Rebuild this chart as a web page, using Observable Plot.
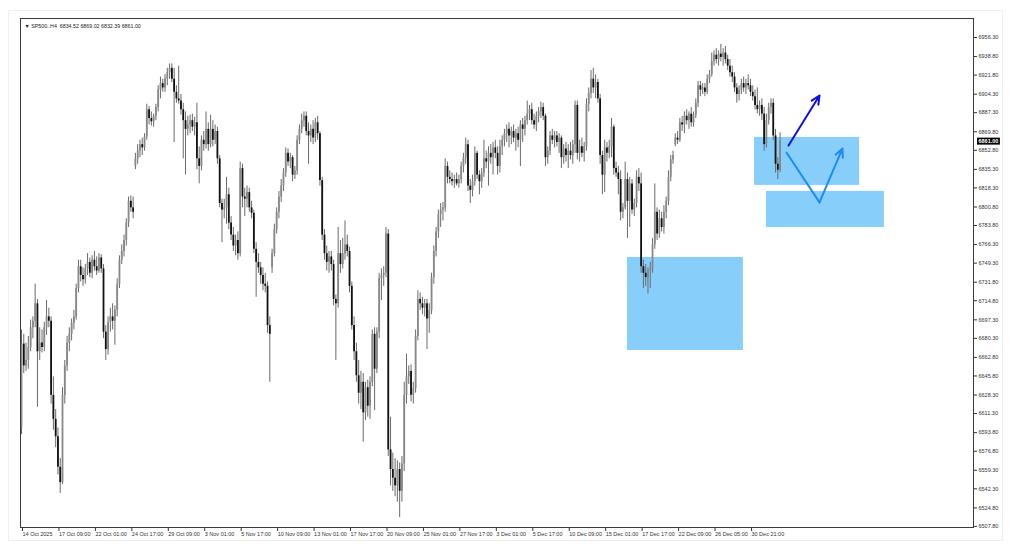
<!DOCTYPE html>
<html><head><meta charset="utf-8">
<script src="https://cdn.jsdelivr.net/npm/d3@7"></script>
<script src="https://cdn.jsdelivr.net/npm/@observablehq/plot@0.6"></script>
<style>
html,body{margin:0;padding:0;background:#fff;}
#chart{position:relative;width:1024px;height:559px;}
#chart svg{position:absolute;left:0;top:0;}
#edge{position:absolute;left:8px;top:10px;width:995px;height:531px;border:1px solid #efefef;box-sizing:border-box;}
</style></head><body><div id="chart"><div id="edge"></div></div>
<script>
const symbol = "SP500..H4";
const opens = [
6598,6675,6655,6660,6672,6690,6696,6712,6668,6676,6672,6690,6700,6696,6628,6606,
6590,6562,6548,6628,6655,6676,6684,6694,6700,6726,6746,6738,6734,6744,6750,6740,
6752,6746,6742,6754,6744,6686,6670,6695,6700,6696,6706,6730,6752,6760,6770,6786,
6806,6800,6838,6845,6852,6858,6855,6865,6890,6882,6879,6884,6892,6908,6914,6910,
6918,6924,6928,6918,6906,6900,6898,6890,6880,6872,6876,6880,6874,6878,6845,6838,
6862,6858,6872,6858,6872,6862,6870,6845,6804,6798,6800,6812,6786,6775,6765,6770,
6758,6836,6810,6808,6814,6800,6795,6762,6750,6745,6738,6730,6728,6692,6745,6758,
6780,6796,6810,6820,6832,6850,6842,6846,6830,6834,6862,6872,6880,6884,6870,6866,
6872,6864,6878,6868,6825,6775,6758,6750,6755,6748,6716,6712,6758,6748,6758,6766,
6760,6728,6692,6668,6646,6630,6640,6612,6635,6618,6640,6684,6652,6686,6735,6738,
6740,6776,6578,6560,6552,6545,6560,6540,6565,6628,6645,6650,6628,6634,6682,6716,
6712,6708,6712,6698,6706,6736,6760,6778,6794,6798,6800,6838,6828,6826,6824,6826,
6822,6826,6838,6846,6858,6820,6816,6824,6850,6830,6824,6832,6845,6842,6850,6846,
6855,6850,6838,6856,6862,6868,6872,6866,6870,6864,6868,6862,6876,6872,6880,6886,
6890,6880,6876,6884,6888,6892,6884,6846,6852,6866,6862,6866,6860,6864,6846,6854,
6848,6852,6848,6858,6894,6850,6856,6850,6856,6895,6905,6918,6910,6915,6900,6848,
6830,6855,6850,6856,6874,6836,6832,6826,6796,6800,6826,6806,6822,6798,6804,6828,
6822,6746,6740,6736,6742,6744,6766,6796,6776,6790,6782,6796,6806,6828,6844,6858,
6864,6862,6878,6876,6884,6880,6886,6878,6885,6896,6912,6908,6910,6906,6918,6922,
6934,6940,6936,6941,6938,6942,6936,6930,6924,6920,6910,6904,6908,6914,6910,6914,
6912,6906,6902,6894,6890,6894,6886,6858,6880,6892,6896,6866,6840,6834.52];
const highs = [
6688,6684,6676,6682,6697,6700,6730,6716,6690,6688,6695,6715,6708,6700,6645,6615,
6598,6570,6635,6660,6682,6690,6698,6706,6730,6752,6752,6745,6748,6758,6754,6756,
6760,6755,6758,6757,6748,6692,6700,6708,6712,6710,6735,6756,6766,6775,6790,6810,
6811,6810,6850,6858,6862,6864,6868,6895,6893,6888,6886,6895,6912,6920,6918,6922,
6928,6932,6932,6928,6912,6930,6904,6896,6888,6884,6885,6886,6883,6896,6856,6866,
6870,6888,6878,6885,6880,6876,6874,6848,6808,6808,6828,6818,6792,6782,6775,6778,
6842,6840,6818,6820,6818,6806,6798,6768,6758,6750,6745,6740,6732,6700,6762,6785,
6800,6815,6826,6836,6855,6854,6850,6848,6838,6866,6876,6886,6888,6888,6878,6876,
6880,6882,6884,6870,6828,6780,6765,6760,6760,6752,6720,6782,6770,6772,6788,6775,
6764,6732,6700,6676,6660,6650,6648,6640,6642,6645,6688,6690,6690,6740,6744,6746,
6782,6780,6608,6575,6570,6568,6566,6572,6640,6666,6655,6656,6640,6688,6724,6722,
6718,6716,6716,6712,6740,6765,6782,6798,6804,6805,6845,6842,6834,6832,6830,6832,
6830,6842,6850,6864,6862,6826,6830,6856,6852,6834,6836,6862,6852,6856,6858,6860,
6862,6856,6862,6866,6872,6876,6878,6874,6876,6872,6874,6880,6882,6884,6898,6894,
6896,6886,6888,6892,6897,6896,6886,6856,6870,6872,6870,6870,6868,6866,6858,6860,
6858,6860,6862,6898,6898,6862,6864,6860,6900,6910,6926,6928,6922,6918,6904,6852,
6862,6860,6862,6882,6876,6842,6838,6834,6804,6842,6832,6828,6826,6808,6834,6836,
6832,6752,6748,6745,6750,6772,6822,6800,6798,6796,6802,6810,6834,6848,6852,6868,
6870,6882,6884,6888,6890,6888,6892,6888,6900,6916,6916,6914,6914,6922,6926,6942,
6944,6946,6944,6950,6946,6948,6940,6936,6930,6924,6914,6912,6918,6920,6918,6922,
6918,6912,6908,6910,6898,6900,6892,6886,6896,6900,6900,6872,6846,6869.02];
const lows = [
6592,6648,6650,6652,6668,6680,6690,6617,6660,6667,6668,6683,6690,6620,6596,6580,
6555,6538,6546,6620,6650,6668,6678,6688,6697,6722,6732,6728,6730,6738,6736,6735,
6742,6738,6740,6740,6680,6660,6665,6686,6688,6674,6700,6726,6748,6755,6765,6782,
6796,6790,6835,6840,6846,6848,6852,6862,6876,6875,6874,6880,6888,6900,6906,6906,
6912,6918,6915,6860,6896,6895,6885,6845,6830,6866,6868,6870,6866,6835,6822,6834,
6852,6854,6852,6855,6856,6858,6840,6800,6768,6790,6785,6780,6770,6760,6756,6752,
6755,6800,6792,6800,6796,6790,6758,6718,6740,6730,6724,6722,6685,6640,6740,6755,
6776,6790,6805,6815,6828,6838,6836,6824,6826,6830,6858,6868,6874,6866,6840,6860,
6858,6860,6862,6820,6770,6752,6742,6740,6742,6710,6660,6708,6740,6744,6752,6755,
6722,6688,6660,6640,6620,6615,6585,6605,6608,6606,6636,6614,6648,6680,6715,6728,
6736,6572,6545,6540,6535,6530,6516,6530,6558,6620,6638,6622,6620,6630,6678,6706,
6702,6700,6670,6685,6702,6730,6755,6772,6782,6788,6796,6822,6822,6820,6818,6820,
6818,6822,6832,6840,6815,6804,6810,6820,6826,6812,6818,6828,6836,6820,6840,6830,
6845,6830,6832,6848,6856,6860,6855,6858,6860,6852,6855,6838,6860,6866,6876,6880,
6876,6872,6870,6878,6882,6880,6838,6840,6848,6858,6855,6856,6850,6836,6840,6842,
6836,6844,6840,6850,6844,6842,6846,6842,6852,6888,6900,6905,6900,6896,6840,6812,
6814,6842,6845,6846,6830,6828,6812,6788,6790,6798,6772,6782,6794,6792,6800,6815,
6740,6726,6728,6721,6726,6740,6762,6770,6772,6778,6776,6790,6802,6824,6840,6856,
6858,6860,6870,6868,6876,6872,6874,6874,6882,6892,6902,6904,6902,6904,6914,6920,
6930,6932,6930,6934,6930,6932,6926,6920,6915,6906,6896,6898,6904,6906,6904,6908,
6902,6898,6890,6886,6884,6880,6852,6855,6876,6886,6862,6832,6826,6832.39];
const closes = [
6675,6655,6660,6672,6690,6696,6712,6668,6676,6672,6690,6700,6696,6628,6606,6590,
6562,6548,6628,6655,6676,6684,6694,6700,6726,6746,6738,6734,6744,6750,6740,6752,
6746,6742,6754,6744,6686,6670,6695,6700,6696,6706,6730,6752,6760,6770,6786,6806,
6800,6796,6845,6852,6858,6855,6865,6890,6882,6879,6884,6892,6908,6914,6910,6918,
6924,6928,6918,6906,6900,6898,6890,6880,6872,6876,6880,6874,6878,6845,6838,6862,
6858,6872,6858,6872,6862,6870,6845,6804,6798,6800,6812,6786,6775,6765,6770,6758,
6836,6810,6808,6814,6800,6795,6762,6750,6745,6738,6730,6728,6692,6684,6758,6780,
6796,6810,6820,6832,6850,6842,6846,6830,6834,6862,6872,6880,6884,6870,6866,6872,
6864,6878,6868,6825,6775,6758,6750,6755,6748,6716,6712,6758,6748,6758,6766,6760,
6728,6692,6668,6646,6630,6640,6612,6635,6618,6640,6684,6652,6686,6735,6738,6740,
6776,6578,6560,6552,6545,6560,6540,6565,6628,6645,6650,6628,6634,6682,6716,6712,
6708,6712,6698,6706,6736,6760,6778,6794,6798,6800,6838,6828,6826,6824,6826,6822,
6826,6838,6846,6858,6820,6816,6824,6850,6830,6824,6832,6845,6842,6850,6846,6855,
6850,6838,6856,6862,6868,6872,6866,6870,6864,6868,6862,6876,6872,6880,6886,6890,
6880,6876,6884,6888,6892,6884,6846,6852,6866,6862,6866,6860,6864,6846,6854,6848,
6852,6848,6858,6894,6850,6856,6850,6856,6895,6905,6918,6910,6915,6900,6848,6830,
6855,6850,6856,6874,6836,6832,6826,6796,6800,6826,6806,6822,6798,6804,6828,6822,
6746,6740,6736,6742,6744,6766,6796,6776,6790,6782,6796,6806,6828,6844,6848,6864,
6862,6878,6876,6884,6880,6886,6878,6885,6896,6912,6908,6910,6906,6918,6922,6934,
6940,6936,6941,6938,6942,6936,6930,6924,6920,6910,6904,6908,6914,6910,6914,6912,
6906,6902,6894,6890,6894,6886,6858,6880,6892,6896,6866,6840,6834.52,6861.00];

// time axis labels (bar index -> label)
const tickBars = [0,16,32,48,64,80,96,112,128,144,160,176,192,208,224,240,256,272,288,304,320];
const tickLabels = ["14 Oct 2025","17 Oct 09:00","22 Oct 01:00","24 Oct 17:00","29 Oct 09:00","3 Nov 01:00","5 Nov 17:00","10 Nov 09:00","13 Nov 01:00","17 Nov 17:00","20 Nov 09:00","25 Nov 01:00","27 Nov 17:00","3 Dec 01:00","5 Dec 17:00","10 Dec 09:00","15 Dec 01:00","17 Dec 17:00","22 Dec 09:00","26 Dec 05:00","30 Dec 21:00"];
const priceTicks = [6956.30,6938.80,6921.80,6904.30,6887.30,6869.80,6852.80,6835.30,6818.30,6800.80,6783.80,6766.30,6749.30,6731.80,6714.80,6697.30,6680.30,6662.80,6645.80,6628.30,6611.30,6593.80,6576.80,6559.30,6542.30,6524.80,6507.80];

// zones (bar index start/end, price top/bottom)
const zoneStart = [266.0, 321.8, 327.0];
const zoneEnd = [316.9, 367.9, 378.8];
const zoneTop = [6754.5, 6864.6, 6815.1];
const zoneBottom = [6669.2, 6820.6, 6782.0];
// projection arrows
const upArrowX = [336.7, 350.3];
const upArrowY = [6857.2, 6903.1];
const vPathX = [335.8, 350.3, 360.4];
const vPathY = [6850.8, 6805.0, 6854.5];

const bars = opens.map((o, i) => ({i, o, h: highs[i], l: lows[i], c: closes[i]}));
const bulls = bars.filter(d => d.c >= d.o);
const bears = bars.filter(d => d.c < d.o);
const zones = zoneStart.map((s, k) => ({x1: s, x2: zoneEnd[k], y1: zoneBottom[k], y2: zoneTop[k]}));
const last = bars[bars.length - 1];
const header = `\u25BC ${symbol}  ${last.o.toFixed(2)} ${last.h.toFixed(2)} ${last.l.toFixed(2)} ${last.c.toFixed(2)}`;

const chart = Plot.plot({
  width: 1024, height: 559,
  marginLeft: 20, marginRight: 51, marginTop: 18, marginBottom: 32,
  style: {fontFamily: "'Liberation Sans', Arial, sans-serif", fontSize: "5.5px", background: "transparent", color: "#333"},
  x: {type: "linear", domain: [-0.44, 417.9]},
  y: {type: "linear", domain: [6506.8, 6973.7]},
  marks: [
    Plot.rect(zones, {x1: "x1", x2: "x2", y1: "y1", y2: "y2", fill: "#87cefa"}),
    Plot.ruleX(bars, {x: "i", y1: "l", y2: "h", stroke: "#6a6a6a", strokeWidth: 1}),
    Plot.ruleX(bulls, {x: "i", y1: "o", y2: "c", stroke: "#888", strokeWidth: 1.8}),
    Plot.ruleX(bears, {x: "i", y1: "o", y2: "c", stroke: "#111", strokeWidth: 1.8}),
    Plot.arrow([0], {x1: () => upArrowX[0], y1: () => upArrowY[0], x2: () => upArrowX[1], y2: () => upArrowY[1], stroke: "#1010e6", strokeWidth: 2, headLength: 7, headAngle: 50}),
    Plot.line([0, 1], {x: k => vPathX[k], y: k => vPathY[k], stroke: "#1e8cf0", strokeWidth: 2}),
    Plot.arrow([0], {x1: () => vPathX[1], y1: () => vPathY[1], x2: () => vPathX[2], y2: () => vPathY[2], stroke: "#1e8cf0", strokeWidth: 2, headLength: 7, headAngle: 50}),
    Plot.frame({stroke: "#3a3a3a", strokeWidth: 1}),
    Plot.axisX(tickBars, {anchor: "bottom", tickSize: 4, tickPadding: 1, tickFormat: d => tickLabels[tickBars.indexOf(d)], textAnchor: "start", dx: 1, label: null, fontSize: 5.5, fill: "#333", stroke: "#333"}),
    Plot.axisY(priceTicks, {anchor: "right", tickSize: 3, tickPadding: 2, tickFormat: d => d.toFixed(2), label: null, fontSize: 5.5, fill: "#333", stroke: "#333"}),
    Plot.text([header], {frameAnchor: "top-left", dx: 4, dy: 6, text: d => d, textAnchor: "start", fontSize: 5.3, fill: "#222"}),
    Plot.text([last.c], {y: d => d, frameAnchor: "right", dx: 5, text: d => d.toFixed(2), textAnchor: "start", fontSize: 5.5, fill: "#fff", fontWeight: "bold"})
  ]
});
document.getElementById("chart").appendChild(chart);

// dark tag behind current price label
const priceText = last.c.toFixed(2);
chart.querySelectorAll("text").forEach(t => {
  const g = t.parentNode;
  const isTag = t.textContent === priceText && (t.getAttribute("fill") === "#fff" || g.getAttribute("fill") === "#fff");
  if (isTag) {
    const b = t.getBBox();
    const r = document.createElementNS("http://www.w3.org/2000/svg", "rect");
    r.setAttribute("x", b.x - 1.5); r.setAttribute("y", b.y - 0.5);
    r.setAttribute("width", b.width + 3); r.setAttribute("height", b.height + 1);
    r.setAttribute("fill", "#000");
    const tr = t.getAttribute("transform");
    if (tr) r.setAttribute("transform", tr);
    g.insertBefore(r, t);
  }
});
</script></body></html>
